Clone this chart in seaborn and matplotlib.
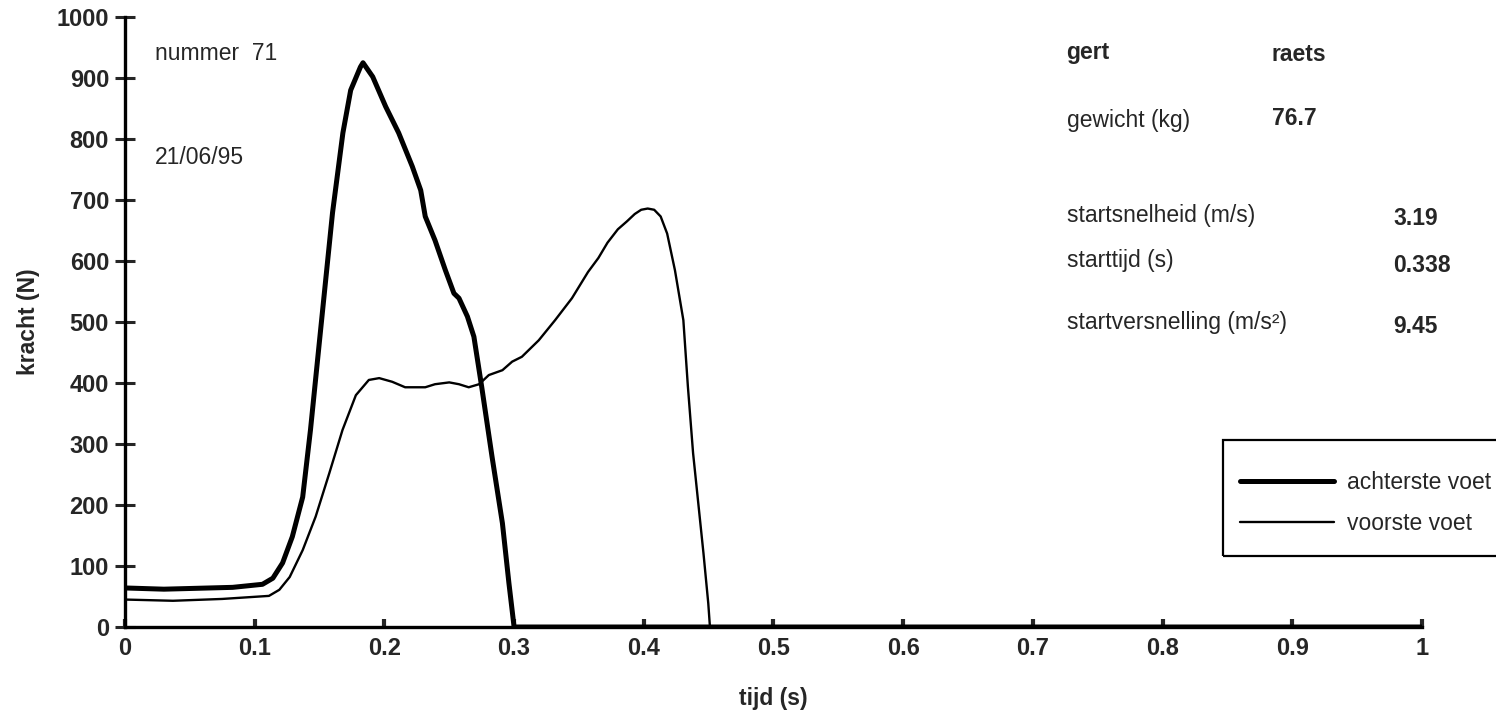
import matplotlib
matplotlib.use("Agg")
import matplotlib.pyplot as plt
from matplotlib.patches import Rectangle
import pandas as pd
import seaborn as sns

# force plate trace
t_achter = [0, 0.03, 0.083, 0.106, 0.114, 0.1215, 0.129, 0.137, 0.143, 0.150,
            0.160, 0.168, 0.174, 0.1815, 0.1835, 0.191, 0.201, 0.211, 0.2215,
            0.228, 0.2315, 0.239, 0.247, 0.2536, 0.2575, 0.264, 0.269, 0.275,
            0.283, 0.291, 0.296, 0.300, 1.0]
f_achter = [64, 62, 65, 70, 80, 105, 148, 213, 323, 470,
            679, 810, 880, 918, 925, 902, 853, 810, 755,
            716, 673, 634, 585, 547, 539, 509, 476, 394,
            279, 170, 72, 0, 0]

t_voor = [0, 0.037, 0.075, 0.111, 0.119, 0.127, 0.137, 0.147, 0.1575, 0.1677,
          0.178, 0.188, 0.196, 0.206, 0.216, 0.2315, 0.239, 0.250, 0.2575,
          0.265, 0.273, 0.2805, 0.291, 0.2985, 0.306, 0.319, 0.3316, 0.3446,
          0.357, 0.365, 0.372, 0.38, 0.387, 0.393, 0.398, 0.403, 0.408, 0.413,
          0.418, 0.424, 0.4305, 0.434, 0.438, 0.442, 0.446, 0.4497, 0.451, 1.0]
f_voor = [45, 43, 46, 51, 61, 82, 126, 181, 252, 323,
          380, 405, 408, 402, 393, 393, 398, 401, 398,
          393, 398, 413, 421, 435, 443, 470, 503, 539,
          582, 605, 630, 652, 665, 677, 684, 686, 684, 673,
          645, 585, 503, 394, 285, 203, 121, 39, 0, 0]

x_ticks = [0, 0.1, 0.2, 0.3, 0.4, 0.5, 0.6, 0.7, 0.8, 0.9, 1]
x_ticklabels = ["0", "0.1", "0.2", "0.3", "0.4", "0.5", "0.6", "0.7", "0.8", "0.9", "1"]
y_ticks = list(range(0, 1001, 100))

info_left = [("gert", 941, "bold"), ("gewicht (kg)", 831, "normal"),
             ("startsnelheid (m/s)", 675, "normal"), ("starttijd (s)", 601, "normal"),
             ("startversnelling (m/s²)", 500, "normal")]
info_mid = [("raets", 938, "bold"), ("76.7", 834, "bold")]
info_right = [("3.19", 670, "bold"), ("0.338", 593, "bold"), ("9.45", 492, "bold")]

df_a = pd.DataFrame({"tijd": t_achter, "kracht": f_achter})
df_v = pd.DataFrame({"tijd": t_voor, "kracht": f_voor})

sns.set_style("ticks")
plt.rcParams["font.family"] = ["Liberation Sans", "DejaVu Sans"]
plt.rcParams["lines.solid_joinstyle"] = "round"
plt.rcParams["lines.solid_capstyle"] = "round"

fs = 16.5

fig = plt.figure(figsize=(14.96, 7.25), dpi=100)
ax = fig.add_axes([125 / 1496, 1 - 627 / 725, 1297 / 1496, 610 / 725])

sns.lineplot(data=df_a, x="tijd", y="kracht", color="black", linewidth=3.6,
             label="achterste voet", ax=ax, sort=False)
sns.lineplot(data=df_v, x="tijd", y="kracht", color="black", linewidth=1.7,
             label="voorste voet", ax=ax, sort=False)

ax.set_xlim(0, 1)
ax.set_ylim(0, 1000)
ax.set_xticks(x_ticks)
ax.set_xticklabels(x_ticklabels)
ax.set_yticks(y_ticks)
for lab in ax.get_xticklabels() + ax.get_yticklabels():
    lab.set_fontweight("bold")
ax.tick_params(axis="y", direction="inout", length=15, width=2.2, labelsize=fs + 0.5, pad=4)
ax.tick_params(axis="x", direction="in", length=6, width=3, labelsize=fs + 0.5, pad=7)

sns.despine(ax=ax)
for s in ["left", "bottom"]:
    ax.spines[s].set_linewidth(2.4)
    ax.spines[s].set_color("black")

ax.set_xlabel("tijd (s)", fontsize=fs, fontweight="bold", labelpad=20)
ax.set_ylabel("kracht (N)", fontsize=fs, fontweight="bold", labelpad=12)

ax.text(0.023, 940, "nummer  71", fontsize=fs, va="center")
ax.text(0.023, 770, "21/06/95", fontsize=fs, va="center")
for txt, yv, w in info_left:
    ax.text(0.726, yv, txt, fontsize=fs, va="center", fontweight=w)
for txt, yv, w in info_mid:
    ax.text(0.884, yv, txt, fontsize=fs, va="center", fontweight=w)
for txt, yv, w in info_right:
    ax.text(0.978, yv, txt, fontsize=fs, va="center", fontweight=w)

# legend frame runs off the right edge of the page
fig.add_artist(Rectangle((1223 / 1496, 1 - 556 / 725), 0.3, 116 / 725,
                         transform=fig.transFigure, fill=False,
                         edgecolor="black", linewidth=1.6))
ax.legend(loc="center left", bbox_to_anchor=(1240 / 1496, 1 - 503 / 725),
          bbox_transform=fig.transFigure, fontsize=fs, frameon=False,
          handlelength=4.1, handletextpad=0.55, borderpad=0,
          labelspacing=0.8, borderaxespad=0)

fig.savefig("out.png", dpi=100)
